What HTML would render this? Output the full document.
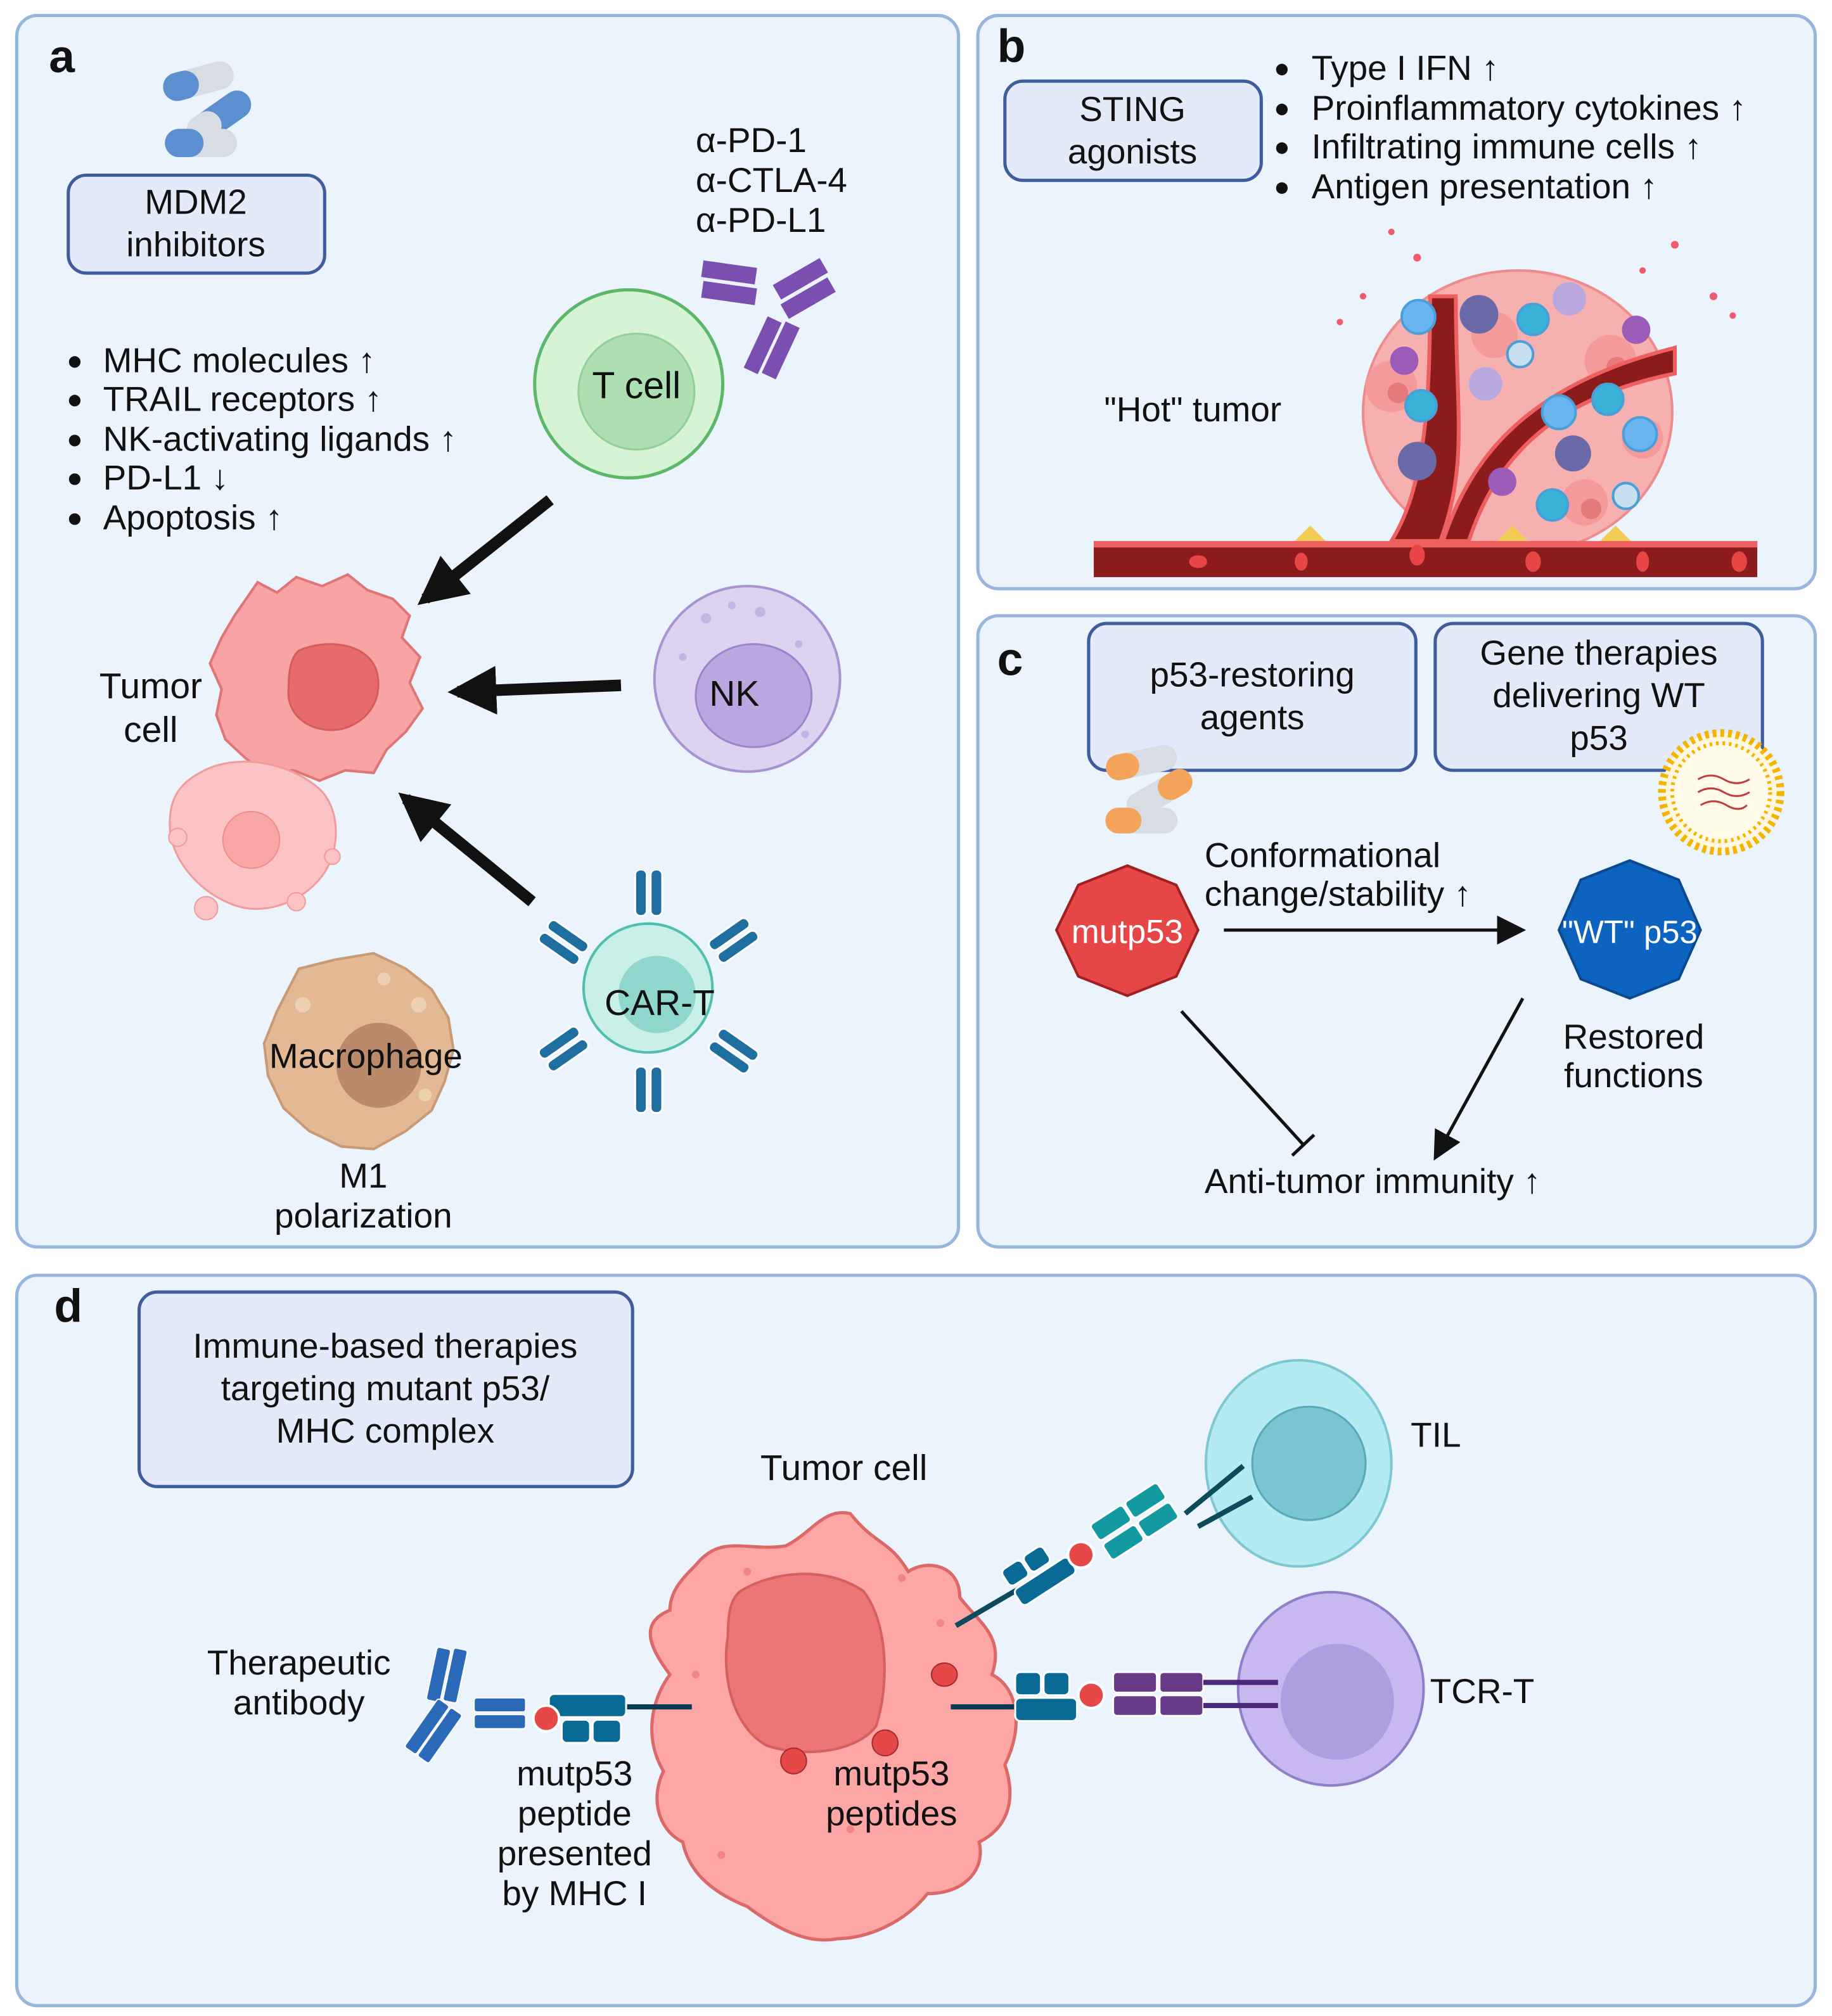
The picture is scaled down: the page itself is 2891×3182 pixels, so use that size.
<!DOCTYPE html>
<html><head><meta charset="utf-8"><style>
html,body{margin:0;padding:0;background:#fff}
svg{display:block}
text{font-family:"Liberation Sans",Arial,sans-serif;fill:#111}
</style></head><body>
<svg width="2891" height="3182" viewBox="0 0 1422 1565" preserveAspectRatio="none" xmlns="http://www.w3.org/2000/svg">
<defs>
<marker id="ah" viewBox="0 0 10 10" refX="8" refY="5" markerWidth="4.2" markerHeight="4.2" orient="auto"><path d="M0,0L10,5L0,10z" fill="#111"/></marker>
<marker id="ah2" viewBox="0 0 10 10" refX="8" refY="5" markerWidth="9" markerHeight="9" orient="auto"><path d="M0,0L10,5L0,10z" fill="#111"/></marker>
</defs>
<rect width="1422" height="1565" fill="#fff"/>
<g fill="#ebf3fc" stroke="#97b6dd" stroke-width="2.5">
<rect x="13" y="12" width="731" height="956" rx="16"/>
<rect x="759" y="12" width="650" height="445" rx="16"/>
<rect x="759" y="478" width="650" height="490" rx="16"/>
<rect x="13" y="990" width="1396" height="567" rx="16"/>
</g>
<g font-weight="bold" font-size="36">
<text x="38" y="56">a</text><text x="774" y="48">b</text><text x="774" y="524">c</text><text x="42" y="1026">d</text>
</g>
<g fill="#e3ebfb" stroke="#3f5c9c" stroke-width="2.5">
<rect x="53" y="136" width="199" height="76" rx="14"/>
<rect x="780" y="63" width="199" height="77" rx="14"/>
<rect x="845" y="484" width="254" height="114" rx="14"/>
<rect x="1114" y="484" width="254" height="114" rx="14"/>
<rect x="108" y="1003" width="383" height="151" rx="14"/>
</g>
<g font-size="27" text-anchor="middle">
<text x="152" y="166">MDM2</text><text x="152" y="199">inhibitors</text>
<text x="879" y="94">STING</text><text x="879" y="127">agonists</text>
<text x="972" y="533">p53-restoring</text><text x="972" y="566">agents</text>
<text x="1241" y="516">Gene therapies</text><text x="1241" y="549">delivering WT</text><text x="1241" y="582">p53</text>
<text x="299" y="1054">Immune-based therapies</text><text x="299" y="1087">targeting mutant p53/</text><text x="299" y="1120">MHC complex</text>
</g>
<g>
<rect x="126" y="52" width="56" height="22" rx="11" fill="#d8dde3" transform="rotate(-15 154 63)"/>
<rect x="126" y="52" width="28" height="22" rx="11" fill="#5b8fd0" transform="rotate(-15 154 63)"/>
<rect x="142" y="80" width="56" height="22" rx="11" fill="#5b8fd0" transform="rotate(-35 170 91)"/>
<rect x="142" y="80" width="28" height="22" rx="11" fill="#d8dde3" transform="rotate(-35 170 91)"/>
<rect x="128" y="100" width="56" height="22" rx="11" fill="#d8dde3"/>
<rect x="128" y="100" width="30" height="22" rx="11" fill="#5b8fd0"/>
</g>
<g font-size="27">
<text x="540" y="118">α-PD-1</text><text x="540" y="149">α-CTLA-4</text><text x="540" y="180">α-PD-L1</text>
<text x="80" y="289">MHC molecules ↑</text>
<text x="80" y="319">TRAIL receptors ↑</text>
<text x="80" y="350">NK-activating ligands ↑</text>
<text x="80" y="380">PD-L1 ↓</text>
<text x="80" y="411">Apoptosis ↑</text>
<text x="117" y="542" text-anchor="middle" font-size="28">Tumor</text>
<text x="117" y="576" text-anchor="middle" font-size="28">cell</text>
<text x="282" y="922" text-anchor="middle">M1</text>
<text x="282" y="953" text-anchor="middle">polarization</text>
</g>
<g fill="#111"><circle cx="58" cy="281" r="4.5"/><circle cx="58" cy="311" r="4.5"/><circle cx="58" cy="342" r="4.5"/><circle cx="58" cy="372" r="4.5"/><circle cx="58" cy="403" r="4.5"/></g>
<g fill="#7a4fb0">
<rect x="545" y="205" width="42" height="13" transform="rotate(8 566 211)"/>
<rect x="545" y="221" width="42" height="13" transform="rotate(8 566 227)"/>
<rect x="600" y="210" width="42" height="13" transform="rotate(-30 621 216)"/>
<rect x="606" y="225" width="42" height="13" transform="rotate(-30 627 231)"/>
<rect x="570" y="262" width="44" height="12" transform="rotate(-65 592 268)"/>
<rect x="584" y="266" width="44" height="12" transform="rotate(-65 606 272)"/>
</g>
<circle cx="488" cy="298" r="73" fill="#d6f3d6" stroke="#5cb868" stroke-width="2.5"/>
<circle cx="494" cy="304" r="45" fill="#aedfb2" stroke="#93cf99" stroke-width="1.5"/>
<text x="494" y="309" font-size="29" text-anchor="middle">T cell</text>
<circle cx="580" cy="527" r="72" fill="#ddd3f1" stroke="#a893d3" stroke-width="2"/>
<ellipse cx="585" cy="540" rx="45" ry="40" fill="#bba6e0" stroke="#9c85cc" stroke-width="1.5"/>
<g fill="#c3b4e6"><circle cx="548" cy="480" r="4"/><circle cx="568" cy="470" r="3"/><circle cx="590" cy="475" r="4"/><circle cx="530" cy="510" r="3"/><circle cx="620" cy="500" r="3"/><circle cx="625" cy="570" r="3"/></g>
<text x="570" y="548" font-size="28" text-anchor="middle">NK</text>
<path d="M200,452 L215,460 230,448 250,455 270,446 285,458 305,465 318,478 312,495 326,510 318,530 328,550 315,568 300,582 290,600 268,598 248,606 228,598 205,600 190,588 175,574 168,555 172,535 163,515 172,495 182,478 Z" fill="#f8a4a4" stroke="#e07575" stroke-width="2"/>
<path d="M232,505 C255,495 285,500 292,520 C298,540 288,560 265,566 C242,570 222,556 224,535 C224,520 226,510 232,505Z" fill="#e76b6b" stroke="#d65c5c" stroke-width="1.5"/>
<path d="M155,600 C180,585 220,590 245,610 C265,625 265,660 250,680 C235,700 205,712 180,702 C155,692 135,670 132,645 C130,620 140,608 155,600Z" fill="#fbc3c3" stroke="#f19b9b" stroke-width="1.5"/>
<circle cx="195" cy="652" r="22" fill="#f8a6a6" stroke="#ee8d8d"/>
<g fill="#fbc3c3" stroke="#f19b9b"><circle cx="160" cy="705" r="9"/><circle cx="138" cy="650" r="7"/><circle cx="258" cy="665" r="6"/><circle cx="230" cy="700" r="7"/></g>
<path d="M232,752 L260,745 290,740 315,752 335,768 348,790 352,815 345,840 335,862 315,878 290,892 265,890 240,878 220,860 208,835 205,810 215,785 Z" fill="#e2b895" stroke="#c89a75" stroke-width="2"/>
<circle cx="294" cy="827" r="33" fill="#bb8a6b"/>
<g fill="#efcfb1"><circle cx="235" cy="780" r="6"/><circle cx="298" cy="760" r="5"/><circle cx="325" cy="780" r="6"/><circle cx="330" cy="850" r="5"/></g>
<text x="284" y="829" font-size="27" text-anchor="middle">Macrophage</text>
<circle cx="503" cy="767" r="50" fill="#c8efe8" stroke="#4fbfb0" stroke-width="2"/>
<circle cx="510" cy="772" r="30" fill="#8fd7cc"/>
<g fill="#1f6ea0" stroke="#fff" stroke-width="1.5">
<rect x="493" y="675" width="9" height="36" rx="4"/><rect x="505" y="675" width="9" height="36" rx="4"/>
<rect x="493" y="828" width="9" height="36" rx="4"/><rect x="505" y="828" width="9" height="36" rx="4"/>
<rect x="425" y="710" width="9" height="36" rx="4" transform="rotate(-55 440 728)"/><rect x="437" y="710" width="9" height="36" rx="4" transform="rotate(-55 440 728)"/>
<rect x="560" y="710" width="9" height="36" rx="4" transform="rotate(55 568 728)"/><rect x="572" y="710" width="9" height="36" rx="4" transform="rotate(55 568 728)"/>
<rect x="425" y="800" width="9" height="36" rx="4" transform="rotate(55 440 818)"/><rect x="437" y="800" width="9" height="36" rx="4" transform="rotate(55 440 818)"/>
<rect x="560" y="800" width="9" height="36" rx="4" transform="rotate(-55 568 818)"/><rect x="572" y="800" width="9" height="36" rx="4" transform="rotate(-55 568 818)"/>
</g>
<text x="512" y="788" font-size="28" text-anchor="middle">CAR-T</text>
<g stroke="#111" stroke-width="9" fill="none">
<line x1="427" y1="388" x2="330" y2="465" marker-end="url(#ah)"/>
<line x1="482" y1="532" x2="355" y2="537" marker-end="url(#ah)"/>
<line x1="413" y1="700" x2="315" y2="620" marker-end="url(#ah)"/>
</g>
<g font-size="27">
<text x="1018" y="62">Type I IFN ↑</text>
<text x="1018" y="93">Proinflammatory cytokines ↑</text>
<text x="1018" y="123">Infiltrating immune cells ↑</text>
<text x="1018" y="154">Antigen presentation ↑</text>
<text x="857" y="327">"Hot" tumor</text>
</g>
<g fill="#111"><circle cx="995" cy="54" r="4.5"/><circle cx="995" cy="85" r="4.5"/><circle cx="995" cy="115" r="4.5"/><circle cx="995" cy="146" r="4.5"/></g>
<ellipse cx="1178" cy="320" rx="120" ry="110" fill="#f7b0b0" stroke="#ee8c8c" stroke-width="2"/>
<g fill="#f49a9a"><circle cx="1080" cy="300" r="20"/><circle cx="1110" cy="360" r="20"/><circle cx="1160" cy="260" r="18"/><circle cx="1250" cy="280" r="20"/><circle cx="1230" cy="390" r="18"/><circle cx="1275" cy="340" r="16"/></g>
<g fill="#e06c6c" opacity=".7"><circle cx="1085" cy="305" r="8"/><circle cx="1115" cy="365" r="8"/><circle cx="1255" cy="285" r="8"/><circle cx="1235" cy="395" r="8"/></g>
<rect x="849" y="420" width="515" height="28" fill="#8c1b1b"/>
<rect x="849" y="420" width="515" height="5" fill="#ee6060"/>
<path d="M1080,420 C1105,380 1110,320 1110,230 L1130,230 C1130,320 1140,360 1118,420Z" fill="#8c1b1b" stroke="#ee6060" stroke-width="3"/>
<path d="M1120,420 C1140,360 1180,300 1300,270 L1300,290 C1200,310 1160,360 1140,420Z" fill="#8c1b1b" stroke="#ee6060" stroke-width="3"/>
<g fill="#e84545"><ellipse cx="930" cy="436" rx="7" ry="5"/><ellipse cx="1010" cy="436" rx="5" ry="7"/><ellipse cx="1100" cy="431" rx="6" ry="8"/><ellipse cx="1190" cy="436" rx="6" ry="8"/><ellipse cx="1275" cy="436" rx="5" ry="8"/><ellipse cx="1350" cy="436" rx="6" ry="8"/></g>
<g fill="#f2cc55"><path d="M1005,420 l12,-12 l12,12z"/><path d="M1162,420 l12,-12 l12,12z"/><path d="M1242,420 l12,-12 l12,12z"/></g>
<g stroke="#4a9fd8" stroke-width="2"><circle cx="1101" cy="246" r="13" fill="#6ab5ef"/><circle cx="1190" cy="248" r="12" fill="#3bb3d8"/><circle cx="1103" cy="315" r="12" fill="#3bb3d8"/><circle cx="1180" cy="275" r="10" fill="#c8dff0"/><circle cx="1210" cy="320" r="13" fill="#6ab5ef"/><circle cx="1248" cy="310" r="12" fill="#3bb3d8"/><circle cx="1273" cy="337" r="13" fill="#6ab5ef"/><circle cx="1205" cy="392" r="12" fill="#3bb3d8"/><circle cx="1262" cy="385" r="10" fill="#c8dff0"/></g>
<g fill="#6a6aa8"><circle cx="1148" cy="244" r="15"/><circle cx="1100" cy="358" r="15"/><circle cx="1221" cy="352" r="14"/></g>
<g fill="#9a5cb8"><circle cx="1090" cy="280" r="11"/><circle cx="1166" cy="374" r="11"/><circle cx="1270" cy="256" r="11"/></g>
<g fill="#b9a8de"><circle cx="1218" cy="232" r="13"/><circle cx="1153" cy="298" r="13"/></g>
<g fill="#f05a6a"><circle cx="1058" cy="230" r="2.5"/><circle cx="1100" cy="200" r="3"/><circle cx="1300" cy="190" r="3"/><circle cx="1330" cy="230" r="3"/><circle cx="1040" cy="250" r="2.5"/><circle cx="1345" cy="245" r="2.5"/><circle cx="1275" cy="210" r="2.5"/><circle cx="1080" cy="180" r="2.5"/></g>
<g>
<rect x="858" y="582" width="56" height="20" rx="10" fill="#d8dde3" transform="rotate(-12 886 592)"/>
<rect x="858" y="582" width="26" height="20" rx="10" fill="#f4a45a" transform="rotate(-12 886 592)"/>
<rect x="872" y="606" width="56" height="20" rx="10" fill="#d8dde3" transform="rotate(-30 900 616)"/>
<rect x="900" y="606" width="28" height="20" rx="10" fill="#f4a45a" transform="rotate(-30 900 616)"/>
<rect x="858" y="627" width="56" height="20" rx="10" fill="#d8dde3"/>
<rect x="858" y="627" width="28" height="20" rx="10" fill="#f4a45a"/>
</g>
<circle cx="1336" cy="615" r="46" fill="#fff7e0" stroke="#f5b400" stroke-width="6" stroke-dasharray="3 3"/>
<circle cx="1336" cy="615" r="38" fill="#fffbe8" stroke="#f5b400" stroke-width="3" stroke-dasharray="2 3"/>
<path d="M1318,605 q10,-6 20,0 t20,0 M1318,615 q10,-6 20,0 t20,0 M1320,625 q10,-6 20,0 t16,0" stroke="#c04040" stroke-width="1.5" fill="none"/>
<polygon points="875,672 913,687 930,722 913,758 875,773 837,758 820,722 837,687" fill="#e64646" stroke="#a02020" stroke-width="2"/>
<text x="875" y="732" font-size="26" text-anchor="middle" style="fill:#fff">mutp53</text>
<polygon points="1265,668 1303,683 1320,722 1303,760 1265,775 1227,760 1210,722 1227,683" fill="#0d63c0" stroke="#0a4a90" stroke-width="2"/>
<text x="1265" y="732" font-size="25" text-anchor="middle" style="fill:#fff">"WT" p53</text>
<g font-size="27">
<text x="935" y="673">Conformational</text>
<text x="935" y="703">change/stability ↑</text>
<text x="1268" y="814" text-anchor="middle">Restored</text>
<text x="1268" y="844" text-anchor="middle">functions</text>
<text x="935" y="926">Anti-tumor immunity ↑</text>
</g>
<g stroke="#111" stroke-width="2.5" fill="none">
<line x1="950" y1="722" x2="1180" y2="722" marker-end="url(#ah2)"/>
<line x1="1182" y1="775" x2="1115" y2="897" marker-end="url(#ah2)"/>
<line x1="917" y1="785" x2="1012" y2="889"/>
<line x1="1003" y1="897" x2="1020" y2="881"/>
</g>
<text x="655" y="1149" font-size="28" text-anchor="middle">Tumor cell</text>
<path d="M540,1215 C560,1190 580,1205 610,1200 C630,1190 640,1170 660,1175 C680,1200 690,1195 705,1220 C720,1210 745,1215 745,1240 C760,1260 780,1270 770,1300 C790,1310 795,1340 780,1370 C790,1400 780,1420 760,1430 C765,1450 750,1470 720,1470 C700,1495 670,1505 650,1505 C625,1510 600,1495 580,1480 C555,1470 535,1455 530,1430 C510,1420 505,1395 515,1375 C500,1350 505,1320 520,1300 C505,1280 495,1260 520,1250 C520,1235 530,1225 540,1215Z" fill="#fca6a6" stroke="#dc6868" stroke-width="2.5"/>
<path d="M575,1235 C600,1220 640,1215 670,1235 C690,1260 690,1310 680,1340 C665,1360 625,1365 595,1355 C568,1340 560,1300 565,1270 C565,1250 568,1240 575,1235Z" fill="#ec7575" stroke="#d66060" stroke-width="2"/>
<g fill="#e64848" stroke="#a52c2c" stroke-width="1"><ellipse cx="733" cy="1300" rx="10" ry="9"/><ellipse cx="687" cy="1353" rx="10" ry="10"/><ellipse cx="616" cy="1367" rx="10" ry="10"/></g>
<g fill="#ef8585"><circle cx="580" cy="1220" r="3"/><circle cx="700" cy="1225" r="3"/><circle cx="540" cy="1300" r="3"/><circle cx="730" cy="1260" r="3"/><circle cx="560" cy="1440" r="3"/><circle cx="660" cy="1420" r="3"/></g>
<ellipse cx="1008" cy="1136" rx="72" ry="80" fill="#b4ebf3" stroke="#7ec8d4" stroke-width="2"/>
<ellipse cx="1016" cy="1136" rx="44" ry="44" fill="#78c5d4" stroke="#5aa8b8" stroke-width="1.5"/>
<text x="1095" y="1123" font-size="27">TIL</text>
<ellipse cx="1033" cy="1311" rx="72" ry="75" fill="#c8b8ef" stroke="#8f7fc9" stroke-width="2"/>
<ellipse cx="1038" cy="1321" rx="44" ry="45" fill="#ad9fdf"/>
<text x="1110" y="1322" font-size="27">TCR-T</text>
<g stroke="#0e4b5a" stroke-width="4"><line x1="742" y1="1262" x2="800" y2="1228"/><line x1="920" y1="1175" x2="965" y2="1138"/><line x1="930" y1="1185" x2="972" y2="1162"/></g>
<g fill="#139aa0" stroke="#fff" stroke-width="1.5" transform="rotate(-33 880 1182)">
<rect x="850" y="1165" width="30" height="15" rx="3"/><rect x="882" y="1165" width="30" height="15" rx="3"/>
<rect x="850" y="1183" width="30" height="15" rx="3"/><rect x="882" y="1183" width="30" height="15" rx="3"/></g>
<g fill="#0a6a96" stroke="#fff" stroke-width="1.5" transform="rotate(-33 815 1215)">
<rect x="780" y="1198" width="18" height="15" rx="4"/><rect x="800" y="1198" width="18" height="15" rx="4"/>
<rect x="780" y="1216" width="50" height="15" rx="4"/></g>
<circle cx="839" cy="1207" r="10" fill="#e64848" stroke="#fff" stroke-width="2"/>
<line x1="738" y1="1325" x2="790" y2="1325" stroke="#0e3a50" stroke-width="4"/>
<g fill="#0a6a96" stroke="#fff" stroke-width="1.5"><rect x="788" y="1298" width="20" height="18" rx="4"/><rect x="810" y="1298" width="20" height="18" rx="4"/><rect x="788" y="1318" width="48" height="18" rx="4"/></g>
<circle cx="847" cy="1316" r="10" fill="#e64848" stroke="#fff" stroke-width="2"/>
<g fill="#683a88" stroke="#fff" stroke-width="1.5"><rect x="864" y="1298" width="34" height="16" rx="3"/><rect x="900" y="1298" width="34" height="16" rx="3"/><rect x="864" y="1316" width="34" height="16" rx="3"/><rect x="900" y="1316" width="34" height="16" rx="3"/></g>
<g stroke="#4a2a78" stroke-width="4"><line x1="934" y1="1306" x2="992" y2="1306"/><line x1="934" y1="1324" x2="992" y2="1324"/></g>
<line x1="485" y1="1325" x2="537" y2="1325" stroke="#0e3a50" stroke-width="4"/>
<g fill="#0a6a96" stroke="#fff" stroke-width="1.5"><rect x="426" y="1315" width="60" height="18" rx="4"/><rect x="436" y="1335" width="22" height="18" rx="4"/><rect x="460" y="1335" width="22" height="18" rx="4"/></g>
<circle cx="424" cy="1334" r="10" fill="#e64848" stroke="#fff" stroke-width="2"/>
<g fill="#2b6ab8" stroke="#fff" stroke-width="1">
<rect x="368" y="1318" width="40" height="11" rx="2"/><rect x="368" y="1331" width="40" height="11" rx="2"/>
<rect x="335" y="1280" width="11" height="42" rx="2" transform="rotate(12 345 1300)"/><rect x="348" y="1280" width="11" height="42" rx="2" transform="rotate(12 355 1300)"/>
<rect x="308" y="1335" width="46" height="11" rx="2" transform="rotate(-55 331 1340)"/><rect x="318" y="1342" width="46" height="11" rx="2" transform="rotate(-55 341 1347)"/>
</g>
<g font-size="27" text-anchor="middle">
<text x="232" y="1300">Therapeutic</text><text x="232" y="1331">antibody</text>
<text x="446" y="1386">mutp53</text><text x="446" y="1417">peptide</text><text x="446" y="1448">presented</text><text x="446" y="1479">by MHC I</text>
<text x="692" y="1386">mutp53</text><text x="692" y="1417">peptides</text>
</g>
</svg>
</body></html>
